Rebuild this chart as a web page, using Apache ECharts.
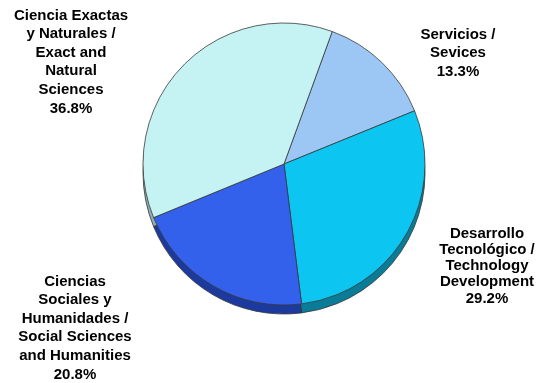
<!DOCTYPE html>
<html>
<head>
<meta charset="utf-8">
<script src="https://cdn.jsdelivr.net/npm/echarts@6/dist/echarts.min.js"></script>
<style>
  html, body { margin: 0; padding: 0; background: #fff; }
  #chart { width: 538px; height: 383px; }
</style>
</head>
<body>
<div id="chart"></div>
<script>
const categories = [
  'Servicios /\nSevices',
  'Desarrollo\nTecnológico /\nTechnology\nDevelopment',
  'Ciencias\nSociales y\nHumanidades /\nSocial Sciences\nand Humanities',
  'Ciencia Exactas\ny Naturales /\nExact and\nNatural\nSciences'
];
const values = [13.3, 29.2, 20.8, 36.8];
const colors = ['#9cc6f3', '#0cc6f1', '#3461ec', '#c5f3f4'];
const shadeColors = ['#5a7fa8', '#0a7c98', '#1c3a9e', '#8fb0b2'];

// label anchor (centre of text block) per slice
const labelSpots = [
  { x: 458, y: 53, lh: 18.5 },
  { x: 487, y: 266, lh: 16.3 },
  { x: 75, y: 328, lh: 18.6 },
  { x: 71, y: 62, lh: 18.6 }
];

const chart = echarts.init(document.getElementById('chart'));

const mainData = categories.map((name, i) => ({
  name: name,
  value: values[i],
  itemStyle: { color: colors[i] },
  label: { lineHeight: labelSpots[i].lh }
}));
const shadeData = categories.map((name, i) => ({
  name: name,
  value: values[i],
  itemStyle: { color: shadeColors[i] }
}));

chart.setOption({
  animation: false,
  series: [
    {
      type: 'pie',
      z: 1,
      silent: true,
      center: [284, 173],
      radius: 141,
      startAngle: 70,
      label: { show: false },
      labelLine: { show: false },
      itemStyle: { borderColor: '#333', borderWidth: 0.8 },
      data: shadeData
    },
    {
      type: 'pie',
      z: 2,
      center: [284, 164],
      radius: 141,
      startAngle: 70,
      itemStyle: { borderColor: '#3a3a3a', borderWidth: 0.8 },
      label: {
        show: true,
        position: 'outside',
        overflow: 'none',
        formatter: (p) => p.name + '\n' + p.value.toFixed(1) + '%',
        fontFamily: 'Liberation Sans, Arial, sans-serif',
        fontWeight: 'bold',
        fontSize: 15,
        color: '#000',
        align: 'center'
      },
      labelLine: { show: false },
      labelLayout: (params) => {
        const s = labelSpots[params.dataIndex];
        return { x: s.x, y: s.y, align: 'center', verticalAlign: 'middle' };
      },
      data: mainData
    }
  ]
});
</script>
</body>
</html>
